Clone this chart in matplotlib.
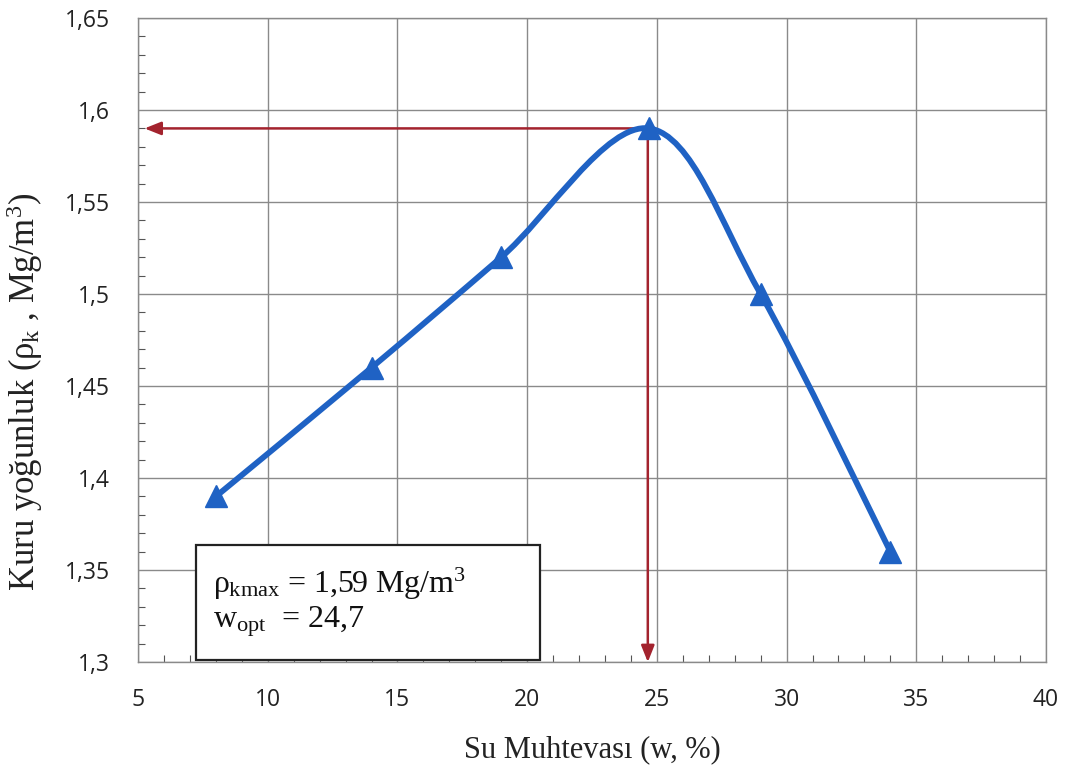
import matplotlib
matplotlib.use("Agg")
import matplotlib.pyplot as plt
from matplotlib.path import Path
from matplotlib.patches import PathPatch, Rectangle
from matplotlib.ticker import MultipleLocator
import numpy as np

plt.rcParams['mathtext.fontset'] = 'custom'
plt.rcParams['mathtext.rm'] = 'Liberation Serif'
plt.rcParams['mathtext.it'] = 'Liberation Serif'
plt.rcParams['mathtext.bf'] = 'Liberation Serif'

# Compaction test results
water_content = [8, 14, 19, 24.7, 29, 34]
dry_density = [1.39, 1.46, 1.52, 1.59, 1.50, 1.36]
w_opt = 24.7
rho_max = 1.59

x_ticks = [5, 10, 15, 20, 25, 30, 35, 40]
x_tick_labels = ["5", "10", "15", "20", "25", "30", "35", "40"]
y_ticks = [1.3, 1.35, 1.4, 1.45, 1.5, 1.55, 1.6, 1.65]
y_tick_labels = ["1,3", "1,35", "1,4", "1,45", "1,5", "1,55", "1,6", "1,65"]

fig = plt.figure(figsize=(10.7, 7.69), dpi=100)
ax = fig.add_axes([0.129, 0.139, 0.8486, 0.8376])
ax.set_xlim(5, 40)
ax.set_ylim(1.3, 1.65)

ax.set_xticks(x_ticks)
ax.set_xticklabels(x_tick_labels)
ax.set_yticks(y_ticks)
ax.set_yticklabels(y_tick_labels)
ax.xaxis.set_minor_locator(MultipleLocator(1))
ax.yaxis.set_minor_locator(MultipleLocator(0.01))
ax.tick_params(which='both', direction='in', colors='#555555', labelcolor='#222222',
               labelsize=16.5)
ax.tick_params(axis='x', which='major', pad=19)
ax.tick_params(axis='y', which='major', pad=20)
ax.tick_params(which='major', length=0)
ax.tick_params(which='minor', length=5, width=0.8)
for lab in ax.get_xticklabels() + ax.get_yticklabels():
    lab.set_fontfamily('Open Sans')
ax.grid(True, which='major', color='#8a8a8a', linewidth=1.0)
ax.set_axisbelow(True)
for sp in ax.spines.values():
    sp.set_color('#8a8a8a')
    sp.set_linewidth(1.0)

# Smooth curve: Catmull-Rom style cubic Bezier segments through the points
pts = np.column_stack([water_content, dry_density])
n = len(pts)
verts = [tuple(pts[0])]
codes = [Path.MOVETO]
for i in range(n - 1):
    p0 = pts[i - 1] if i > 0 else pts[i]
    p1 = pts[i]
    p2 = pts[i + 1]
    p3 = pts[i + 2] if i + 2 < n else pts[i + 1]
    c1 = p1 + (p2 - p0) / 6.0
    c2 = p2 - (p3 - p1) / 6.0
    verts += [tuple(c1), tuple(c2), tuple(p2)]
    codes += [Path.CURVE4] * 3
curve = PathPatch(Path(verts, codes), facecolor='none', edgecolor='#1f62c4',
                  linewidth=4.2, capstyle='round', joinstyle='round', zorder=3)
ax.add_patch(curve)
ax.plot(water_content, dry_density, linestyle='none', marker='^', markersize=16,
        color='#1f62c4', zorder=4, clip_on=False)

# Arrows marking the maximum dry density and optimum water content
arrow_kw = dict(arrowstyle='-|>,head_length=1.0,head_width=0.4', color='#a3232e',
                lw=1.8, shrinkA=0, shrinkB=0)
ax.annotate('', xy=(5.25, rho_max), xytext=(w_opt, rho_max), arrowprops=arrow_kw, zorder=2)
ax.annotate('', xy=(w_opt - 0.05, 1.3), xytext=(w_opt - 0.05, rho_max),
            arrowprops=arrow_kw, zorder=2)

# Result box
ax.add_patch(Rectangle((0.064, 0.003), 0.379, 0.179, transform=ax.transAxes,
                       facecolor='white', edgecolor='#222222', linewidth=1.6, zorder=5))
ax.text(0.064 + 0.019, 0.122, r'$\rho_{\mathrm{kmax}}$ = 1,59 Mg/m$^3$',
        transform=ax.transAxes, fontsize=23, fontfamily='Liberation Serif',
        color='#111111', va='center', ha='left', zorder=6)
ax.text(0.064 + 0.019, 0.062, r'w$_{\mathrm{opt}}$  = 24,7',
        transform=ax.transAxes, fontsize=23, fontfamily='Liberation Serif',
        color='#111111', va='center', ha='left', zorder=6)

ax.set_xlabel('Su Muhtevası (w, %)', fontfamily='Liberation Serif', fontsize=22,
              color='#222222', labelpad=16)
ax.set_ylabel(r'Kuru yoğunluk ($\rho_{\mathrm{k}}$ , Mg/m$^3$)', fontfamily='Liberation Serif',
              fontsize=25, color='#222222')
ax.yaxis.set_label_coords(-0.102, 0.42)

fig.savefig('out.png', dpi=100)
